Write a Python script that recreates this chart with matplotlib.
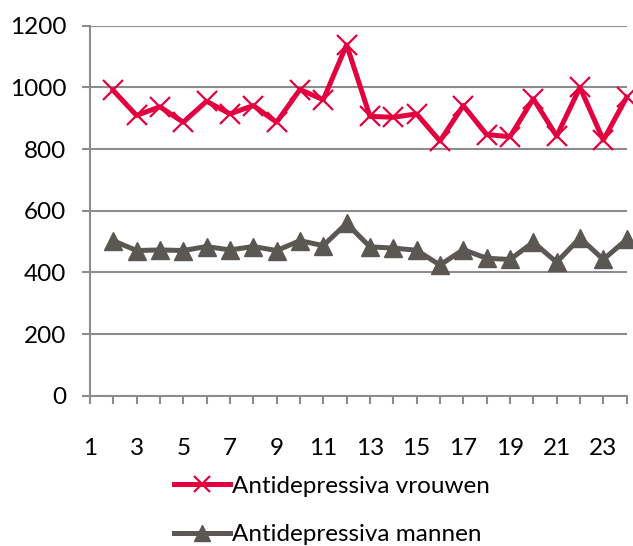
import numpy as np
import matplotlib.pyplot as plt

months = list(range(2, 25))
vrouwen = [990, 909, 937, 887, 955, 914, 941, 887, 993, 960, 1138, 906, 903,
           914, 826, 941, 847, 840, 963, 842, 1000, 829, 968]
mannen = [503, 471, 473, 471, 484, 473, 484, 471, 503, 487, 559, 483, 479,
          472, 424, 474, 446, 442, 498, 433, 512, 442, 507]

plt.rcParams['font.family'] = ['Lato', 'DejaVu Sans']

fig = plt.figure(figsize=(6.33, 5.46), dpi=100)
ax = fig.add_axes([0.142, 0.275, 0.848, 0.678])

red = '#E2003F'
grey = '#5B5753'
ax.plot(months, vrouwen, color=red, lw=3.6, marker='x', ms=14, mew=1.6,
        label='Antidepressiva vrouwen', clip_on=False, zorder=3)
ax.plot(months, mannen, color=grey, lw=3.6, marker='^', ms=13,
        label='Antidepressiva mannen', clip_on=False, zorder=3)

ax.set_xlim(1, 24)
ax.set_ylim(0, 1200)
ax.set_yticks(np.arange(0, 1201, 200))
ax.set_xticks(range(1, 25))
ax.set_xticklabels([str(i) if i % 2 == 1 else '' for i in range(1, 25)])
ax.yaxis.grid(True, color='#8C8C8C', lw=1.5)
ax.set_axisbelow(True)
for s in ['top', 'right']:
    ax.spines[s].set_visible(False)
for s in ['left', 'bottom']:
    ax.spines[s].set_color('#8C8C8C')
    ax.spines[s].set_linewidth(1.5)
ax.tick_params(axis='both', colors='#8C8C8C', width=1.5, length=6,
               labelsize=17.5, labelcolor='black')
ax.tick_params(axis='x', pad=24)
ax.tick_params(axis='y', pad=11)

fig.legend(loc='center left', bbox_to_anchor=(0.275, 0.065), ncol=1,
           frameon=False, fontsize=17.5, handlelength=2.3, handletextpad=0.1,
           labelspacing=1.15, borderpad=0, borderaxespad=0, markerscale=0.85)

fig.savefig('out.png', dpi=100)
